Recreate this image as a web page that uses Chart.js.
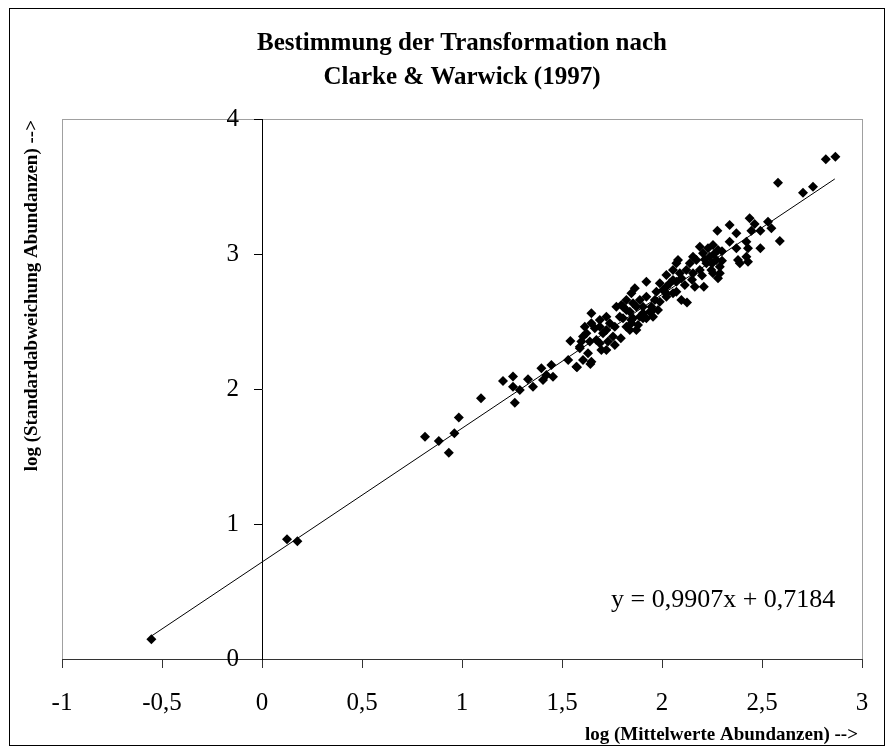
<!DOCTYPE html>
<html>
<head>
<meta charset="utf-8">
<script src="https://cdn.jsdelivr.net/npm/chart.js@4.4.1/dist/chart.umd.min.js"></script>
<style>
  body { margin: 0; background: #fff; }
</style>
</head>
<body>
<canvas id="chart" width="890" height="753"></canvas>
<script>
// log mean / log standard deviation of the abundances
var logMean = [
  -0.553, 0.125, 0.177, 0.815, 0.884, 0.934, 0.962, 0.984, 1.095, 1.205,
  1.255, 1.255, 1.264, 1.289, 1.330, 1.355, 1.405, 1.397, 1.422, 1.447,
  1.455, 1.531, 1.542, 1.575, 1.605, 1.642, 1.630, 1.589, 1.597, 1.614,
  1.622, 1.639, 1.647, 1.664, 1.689, 1.697, 1.689, 1.705, 1.722, 1.739,
  1.755, 1.764, 1.764, 1.789, 1.794, 1.805, 1.822, 1.839, 1.847, 1.855,
  1.864, 1.872, 1.880, 1.889, 1.905, 1.922, 1.922, 1.922, 1.947, 1.955,
  1.964, 1.980, 2.005, 2.022, 2.022, 2.039, 2.055, 2.055, 2.072, 2.080,
  2.097, 2.114, 2.125, 2.139, 2.155, 2.164, 2.172, 2.189, 2.205, 2.209,
  2.222, 2.230, 2.247, 2.255, 2.272, 2.277, 2.280, 2.280, 2.338, 2.338,
  2.372, 2.372, 2.380, 2.389, 2.422, 2.430, 2.422, 2.430, 2.438, 2.463,
  2.447, 2.492, 2.530, 2.547, 2.492, 2.589, 2.580, 2.705, 2.755, 2.819,
  2.867, 2.155, 2.189, 2.239, 2.289, 2.255, 2.289, 2.122, 1.989, 1.972,
  2.022, 2.072, 2.097, 1.989, 2.089, 1.822, 1.855, 1.905, 1.772, 1.889,
  1.847, 1.939, 1.805, 1.839, 1.689, 1.647, 1.722, 1.672, 1.730, 1.605,
  1.722, 1.647, 1.572, 1.589, 1.797, 1.822, 1.847, 1.872, 1.905, 1.955,
  2.022, 2.055, 2.072, 2.214, 2.260, 2.300, 2.300, 2.250, 2.200, 2.150
];
var logSd = [
  0.146, 0.887, 0.872, 1.647, 1.615, 1.528, 1.672, 1.788, 1.931, 2.060,
  2.093, 2.017, 1.899, 1.993, 2.072, 2.017, 2.067, 2.153, 2.104, 2.178,
  2.091, 2.215, 2.356, 2.161, 2.215, 2.185, 2.264, 2.302, 2.351, 2.462,
  2.413, 2.351, 2.561, 2.450, 2.339, 2.289, 2.462, 2.413, 2.536, 2.487,
  2.388, 2.462, 2.326, 2.536, 2.376, 2.610, 2.462, 2.573, 2.709, 2.524,
  2.746, 2.610, 2.474, 2.659, 2.561, 2.684, 2.795, 2.524, 2.610, 2.536,
  2.659, 2.585, 2.733, 2.684, 2.844, 2.783, 2.709, 2.881, 2.795, 2.956,
  2.820, 2.770, 2.640, 2.931, 2.857, 2.758, 2.956, 2.881, 3.005, 2.758,
  2.931, 3.042, 2.881, 3.067, 2.956, 3.173, 3.030, 2.820, 3.215, 3.091,
  3.153, 3.042, 2.956, 2.931, 3.091, 3.042, 2.980, 2.943, 3.264, 3.222,
  3.173, 3.173, 3.239, 3.190, 3.042, 3.096, 3.528, 3.454, 3.499, 3.701,
  3.721, 2.980, 3.054, 2.980, 2.906, 2.857, 2.857, 2.881, 2.783, 2.721,
  2.758, 2.721, 2.659, 2.647, 2.857, 2.659, 2.635, 2.610, 2.610, 2.536,
  2.487, 2.573, 2.524, 2.437, 2.511, 2.487, 2.437, 2.363, 2.351, 2.388,
  2.289, 2.202, 2.165, 2.313, 2.622, 2.585, 2.511, 2.437, 2.524, 2.585,
  2.709, 2.807, 2.931, 2.960, 3.000, 3.020, 2.950, 2.930, 2.840, 2.810
];

// ends of the linear trendline
var trendX = [-0.553, 2.864];
var trendY = [0.170, 3.556];

var xTickLabels = ['-1', '-0,5', '0', '0,5', '1', '1,5', '2', '2,5', '3'];
var yTickLabels = ['0', '1', '2', '3', '4'];

var titleLines = ['Bestimmung der Transformation nach', 'Clarke & Warwick (1997)'];
var xTitle = 'log (Mittelwerte Abundanzen) -->';
var yTitle = 'log (Standardabweichung Abundanzen) -->';
var equation = 'y = 0,9907x + 0,7184';

var serif = '"Liberation Serif", "Times New Roman", serif';
Chart.defaults.font.family = serif;
Chart.defaults.color = '#000';

var points = logMean.map(function (x, i) { return { x: x, y: logSd[i] }; });
var trend = trendX.map(function (x, i) { return { x: x, y: trendY[i] }; });

// frame, plot area border and the free texts
var decor = {
  id: 'decor',
  beforeDraw: function (chart) {
    var c = chart.ctx, a = chart.chartArea;
    // y labels of an axis placed at x=0 sit on the line, move them left
    var ys = chart.scales.y;
    ys.getLabelItems(a).forEach(function (item) {
      if (!item._moved) {
        item.options.translation[0] -= 23;
        item._moved = true;
      }
    });
    c.save();
    c.fillStyle = '#fff';
    c.fillRect(0, 0, chart.width, chart.height);
    c.strokeStyle = '#a0a0a0';
    c.lineWidth = 1;
    c.strokeRect(a.left + 0.5, a.top + 0.5, a.right - a.left, a.bottom - a.top);
    c.restore();
  },
  afterDraw: function (chart) {
    var c = chart.ctx;
    c.save();
    c.strokeStyle = '#000';
    c.lineWidth = 1;
    c.strokeRect(9.5, 8.5, 875, 737);

    c.fillStyle = '#000';
    c.font = 'bold 19px ' + serif;
    c.textBaseline = 'middle';
    c.textAlign = 'right';
    c.fillText(xTitle, 858, 735);

    c.translate(32, 120);
    c.rotate(-Math.PI / 2);
    c.fillText(yTitle, 0, 0);
    c.restore();

    c.save();
    c.fillStyle = '#000';
    c.font = '26px ' + serif;
    c.textBaseline = 'middle';
    c.textAlign = 'left';
    c.fillText(equation, 611, 600);
    c.restore();
  }
};

var ctx = document.getElementById('chart').getContext('2d');
new Chart(ctx, {
  type: 'scatter',
  data: {
    datasets: [{
      label: 'Trend',
      data: trend,
      showLine: true,
      borderColor: '#000',
      borderWidth: 1,
      pointRadius: 0,
      fill: false
    }, {
      label: 'Daten',
      data: points,
      pointStyle: 'rectRot',
      pointRadius: 5,
      backgroundColor: '#000',
      borderColor: '#000',
      borderWidth: 0
    }]
  },
  options: {
    responsive: false,
    animation: false,
    devicePixelRatio: 1,
    layout: { padding: { left: 62, right: 28, top: 0, bottom: 94 } },
    plugins: {
      legend: { display: false },
      tooltip: { enabled: false },
      title: {
        display: true,
        text: titleLines,
        font: { size: 25, weight: 'bold', lineHeight: 1.36 },
        padding: { top: 27, bottom: 24 },
        color: '#000'
      }
    },
    scales: {
      x: {
        type: 'linear',
        position: { y: 0 },
        min: -1,
        max: 3,
        afterBuildTicks: function (axis) {
          axis.ticks = [-1, -0.5, 0, 0.5, 1, 1.5, 2, 2.5, 3].map(function (v) { return { value: v }; });
        },
        ticks: {
          font: { size: 25 },
          padding: 21,
          maxRotation: 0,
          callback: function (v, i) { return xTickLabels[i]; }
        },
        grid: { drawOnChartArea: false, tickLength: 8, tickColor: '#333' },
        border: { color: '#333', width: 1 }
      },
      y: {
        type: 'linear',
        position: { x: 0 },
        min: 0,
        max: 4,
        ticks: {
          stepSize: 1,
          font: { size: 25 },
          padding: 14,
          callback: function (v, i) { return yTickLabels[i]; }
        },
        grid: { drawOnChartArea: false, tickLength: 8, tickColor: '#000' },
        border: { color: '#000', width: 1 }
      }
    }
  },
  plugins: [decor]
});
</script>
</body>
</html>
